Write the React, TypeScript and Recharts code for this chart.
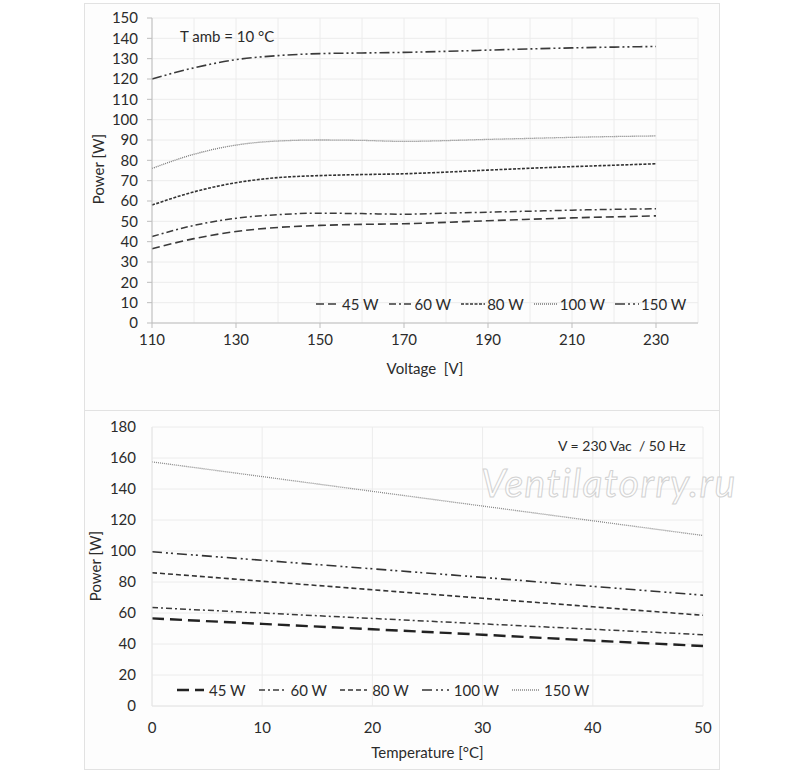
import { CartesianGrid, Legend, Line, LineChart, XAxis, YAxis } from "recharts"

// top chart: power vs supply voltage, T amb = 10 °C
const voltage = [110, 120, 130, 140, 150, 160, 170, 180, 190, 200, 210, 220, 230]
const v45 = [36.5, 41.5, 45, 47, 48, 48.5, 48.8, 49.5, 50.3, 51, 51.7, 52.2, 52.7]
const v60 = [42.5, 48, 51.5, 53.3, 54, 53.8, 53.5, 54, 54.5, 55, 55.5, 55.9, 56.2]
const v80 = [58, 64.5, 69, 71.5, 72.5, 73, 73.4, 74.2, 75.2, 76.1, 76.9, 77.6, 78.3]
const v100 = [76, 83, 87.5, 89.5, 90, 89.8, 89.3, 89.7, 90.3, 90.8, 91.3, 91.7, 92]
const v150 = [120, 125.5, 129.5, 131.5, 132.5, 132.8, 133.1, 133.6, 134.2, 134.8, 135.3, 135.7, 136]
const voltTicks = [110, 130, 150, 170, 190, 210, 230]
const voltGrid = [110, 120, 130, 140, 150, 160, 170, 180, 190, 200, 210, 220, 230, 240]
const powerTicksTop = [0, 10, 20, 30, 40, 50, 60, 70, 80, 90, 100, 110, 120, 130, 140, 150]

// bottom chart: power vs ambient temperature, 230 Vac / 50 Hz
const temperature = [0, 10, 20, 30, 40, 50]
const t45 = [56.5, 53, 49.5, 46, 42.2, 38.7]
const t60 = [63.5, 60, 56.5, 53, 49.5, 46]
const t80 = [86, 80.5, 75, 69.5, 64, 58.5]
const t100 = [99.5, 94, 88.5, 83, 77.2, 71.5]
const t150 = [157.5, 148, 138.5, 129, 119.5, 110]
const tempTicks = [0, 10, 20, 30, 40, 50]
const powerTicksBottom = [0, 20, 40, 60, 80, 100, 120, 140, 160, 180]

const seriesNames = ["45 W", "60 W", "80 W", "100 W", "150 W"]

const topData = voltage.map((v, i) => ({
  v,
  s45: v45[i],
  s60: v60[i],
  s80: v80[i],
  s100: v100[i],
  s150: v150[i],
}))

const bottomData = temperature.map((t, i) => ({
  t,
  s45: t45[i],
  s60: t60[i],
  s80: t80[i],
  s100: t100[i],
  s150: t150[i],
}))

const keys = ["s45", "s60", "s80", "s100", "s150"]

type Style = { stroke: string; width: number; dash: string }

const topStyles: Style[] = [
  { stroke: "#3a3a3a", width: 1.6, dash: "8 4" },
  { stroke: "#3a3a3a", width: 1.5, dash: "7 3 2 3" },
  { stroke: "#333", width: 1.6, dash: "3 1.5" },
  { stroke: "#777", width: 1.3, dash: "1 1" },
  { stroke: "#3a3a3a", width: 1.6, dash: "10 3 2 3 2 3" },
]

const bottomStyles: Style[] = [
  { stroke: "#222", width: 2.4, dash: "12 6" },
  { stroke: "#3a3a3a", width: 1.5, dash: "6 3 2 3" },
  { stroke: "#333", width: 1.6, dash: "5 3" },
  { stroke: "#333", width: 1.6, dash: "10 4 2 3 2 4" },
  { stroke: "#888", width: 1.3, dash: "1 1" },
]

const font = "Lato, 'Open Sans', sans-serif"
const textColor = "#2b2b2b"

function makeLegend(styles: Style[], iconWidth: number, iconGap: number, itemGap: number) {
  return () => (
    <div style={{ display: "flex", alignItems: "center", fontFamily: font, fontSize: 15, color: textColor }}>
      {seriesNames.map((name, i) => (
        <div key={name} style={{ display: "flex", alignItems: "center", marginRight: itemGap }}>
          <svg width={iconWidth} height={10} style={{ marginRight: iconGap }}>
            <line
              x1={0}
              y1={5}
              x2={iconWidth}
              y2={5}
              stroke={styles[i].stroke}
              strokeWidth={styles[i].width}
              strokeDasharray={styles[i].dash}
            />
          </svg>
          <span>{name}</span>
        </div>
      ))}
    </div>
  )
}

const tickStyle = { fontFamily: font, fontSize: 15, fill: textColor }

export default function App() {
  return (
    <div style={{ position: "absolute", left: 0, top: 0, width: 800, height: 774, background: "#fff" }}>
      {/* outer frame with divider */}
      <div
        style={{
          position: "absolute",
          left: 84,
          top: 3,
          width: 636,
          height: 767,
          border: "1px solid #e2e2e2",
          boxSizing: "border-box",
          background: "#fdfdfd",
        }}
      />
      <div style={{ position: "absolute", left: 84, top: 410, width: 636, height: 1, background: "#e2e2e2" }} />

      {/* top chart */}
      <div style={{ position: "absolute", left: 84, top: 3 }}>
        <LineChart width={636} height={407} data={topData} margin={{ top: 15, right: 22, left: 0, bottom: 0 }}>
          <CartesianGrid stroke="#ececec" verticalValues={voltGrid} />
          <XAxis
            dataKey="v"
            type="number"
            domain={[110, 240]}
            ticks={voltTicks}
            height={87}
            stroke="#bdbdbd"
            tickSize={5}
            tickMargin={6}
            tick={tickStyle}
          />
          <YAxis
            type="number"
            domain={[0, 150]}
            ticks={powerTicksTop}
            width={68}
            stroke="#bdbdbd"
            tickSize={5}
            tickMargin={9}
            tick={tickStyle}
            interval={0}
          />
          <Legend
            layout="horizontal"
            verticalAlign="middle"
            align="center"
            wrapperStyle={{ left: 232, top: 292, width: "auto" }}
            content={makeLegend(topStyles, 24, 2, 10)}
          />
          {keys.map((k, i) => (
            <Line
              key={k}
              dataKey={k}
              name={seriesNames[i]}
              type="monotone"
              stroke={topStyles[i].stroke}
              strokeWidth={topStyles[i].width}
              strokeDasharray={topStyles[i].dash}
              dot={false}
              isAnimationActive={false}
            />
          ))}
        </LineChart>
      </div>

      {/* bottom chart */}
      <div style={{ position: "absolute", left: 84, top: 410 }}>
        <LineChart width={636} height={360} data={bottomData} margin={{ top: 17, right: 17, left: 0, bottom: 0 }}>
          <CartesianGrid stroke="#ececec" />
          <XAxis
            dataKey="t"
            type="number"
            domain={[0, 50]}
            ticks={tempTicks}
            height={64}
            stroke="#e6e6e6"
            tickLine={false}
            tickSize={0}
            tickMargin={16}
            tick={tickStyle}
          />
          <YAxis
            type="number"
            domain={[0, 180]}
            ticks={powerTicksBottom}
            width={68}
            stroke="#e6e6e6"
            tickLine={false}
            tickSize={0}
            tickMargin={16}
            tick={tickStyle}
            interval={0}
          />
          <Legend
            layout="horizontal"
            verticalAlign="middle"
            align="center"
            wrapperStyle={{ left: 93, top: 271, width: "auto" }}
            content={makeLegend(bottomStyles, 27, 5, 13)}
          />
          {keys.map((k, i) => (
            <Line
              key={k}
              dataKey={k}
              name={seriesNames[i]}
              type="linear"
              stroke={bottomStyles[i].stroke}
              strokeWidth={bottomStyles[i].width}
              strokeDasharray={bottomStyles[i].dash}
              dot={false}
              isAnimationActive={false}
            />
          ))}
        </LineChart>
      </div>

      {/* titles and notes */}
      <div style={{ position: "absolute", left: 180, top: 27, fontFamily: font, fontSize: 15, color: textColor }}>
        T amb = 10 °C
      </div>
      <div
        style={{
          position: "absolute",
          left: 300,
          width: 250,
          top: 359,
          textAlign: "center",
          fontFamily: font,
          fontSize: 15,
          color: textColor,
          whiteSpace: "pre",
        }}
      >
        {"Voltage  [V]"}
      </div>
      <div
        style={{
          position: "absolute",
          left: 98 - 60,
          top: 170 - 10,
          width: 120,
          textAlign: "center",
          transform: "rotate(-90deg)",
          fontFamily: font,
          fontSize: 15,
          color: textColor,
        }}
      >
        Power [W]
      </div>
      <div
        style={{
          position: "absolute",
          left: 558,
          top: 437,
          fontFamily: font,
          fontSize: 14,
          color: textColor,
          whiteSpace: "pre",
        }}
      >
        {"V = 230 Vac  / 50 Hz"}
      </div>
      <div
        style={{
          position: "absolute",
          left: 300,
          width: 255,
          top: 743,
          textAlign: "center",
          fontFamily: font,
          fontSize: 15,
          color: textColor,
        }}
      >
        Temperature [°C]
      </div>
      <div
        style={{
          position: "absolute",
          left: 95 - 60,
          top: 567 - 10,
          width: 120,
          textAlign: "center",
          transform: "rotate(-90deg)",
          fontFamily: font,
          fontSize: 15,
          color: textColor,
        }}
      >
        Power [W]
      </div>

      {/* watermark */}
      <svg style={{ position: "absolute", left: 470, top: 455 }} width={320} height={56}>
        <text
          x={11}
          y={42}
          fontFamily={font}
          fontStyle="italic"
          fontSize={39}
          fill="#ffffff"
          fillOpacity={0.6}
          stroke="#d2d2d2"
          strokeWidth={1}
          letterSpacing={1.5}
        >
          Ventilatorry.ru
        </text>
      </svg>
    </div>
  )
}
